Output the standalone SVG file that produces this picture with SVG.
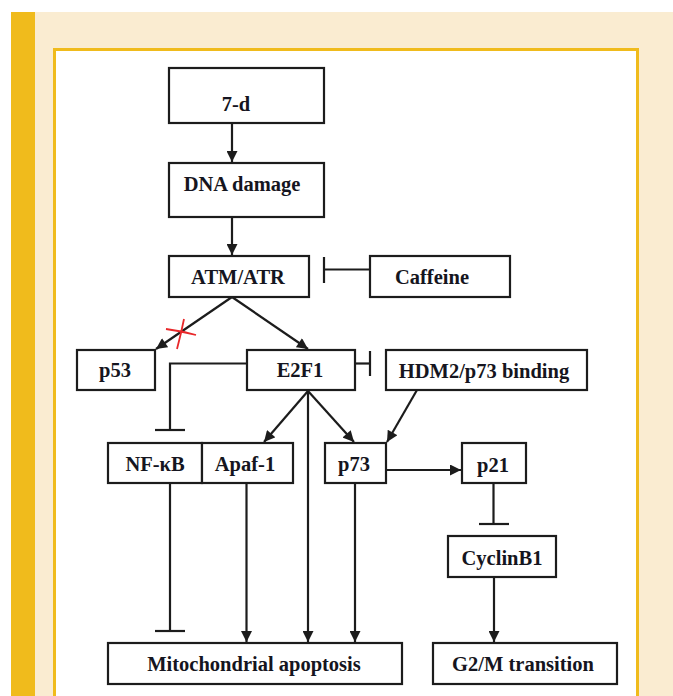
<svg xmlns="http://www.w3.org/2000/svg" width="673" height="696" viewBox="0 0 673 696">
<defs>
<style>
.box{fill:#fff;stroke:#1c1c1c;stroke-width:2.2}
.lbl{font-family:"Liberation Serif","Times New Roman",serif;font-weight:bold;font-size:20.5px;fill:#151520;text-anchor:middle}
.ln{stroke:#1c1c1c;stroke-width:2.2;fill:none}
.arr{stroke:#1c1c1c;stroke-width:2.2;fill:none;marker-end:url(#ah)}
</style>
<marker id="ah" viewBox="0 0 10 10" refX="10" refY="5" markerWidth="5.5" markerHeight="5" markerUnits="strokeWidth" orient="auto">
<path d="M0,0 L10,5 L0,10 z" fill="#1c1c1c"/>
</marker>
</defs>
<rect x="0" y="0" width="673" height="696" fill="#fff"/>
<rect x="11" y="12" width="662" height="684" fill="#FAECD1"/>
<rect x="11" y="12" width="24" height="684" fill="#F0BB1C"/>
<rect x="54.5" y="49.5" width="583" height="660" fill="#fff" stroke="#F0BB1C" stroke-width="3"/>

<g id="connectors">
<line class="arr" x1="232" y1="124" x2="232" y2="162"/>
<line class="arr" x1="232" y1="218" x2="232" y2="255"/>
<line class="ln" x1="370" y1="269.5" x2="324" y2="269.5"/>
<line class="ln" x1="324" y1="257" x2="324" y2="283"/>
<line class="arr" x1="232" y1="297" x2="156" y2="349"/>
<line class="arr" x1="232" y1="297" x2="308" y2="349"/>
<polyline class="ln" points="247,363.5 170,363.5 170,430"/>
<line class="ln" x1="155" y1="430" x2="185" y2="430"/>
<line class="ln" x1="355" y1="363.5" x2="370" y2="363.5"/>
<line class="ln" x1="370" y1="351" x2="370" y2="376"/>
<line class="arr" x1="308" y1="391" x2="264" y2="442"/>
<line class="arr" x1="308" y1="391" x2="354" y2="442"/>
<line class="arr" x1="308" y1="391" x2="308" y2="642"/>
<line class="arr" x1="417" y1="390" x2="387" y2="442"/>
<line class="arr" x1="386" y1="470" x2="461" y2="470"/>
<line class="ln" x1="493.5" y1="483" x2="493.5" y2="524"/>
<line class="ln" x1="479" y1="524" x2="509" y2="524"/>
<line class="arr" x1="494" y1="577" x2="494" y2="642"/>
<line class="ln" x1="170" y1="483" x2="170" y2="631"/>
<line class="ln" x1="155" y1="631" x2="185" y2="631"/>
<line class="arr" x1="246.5" y1="483" x2="246.5" y2="642"/>
<line class="arr" x1="355" y1="483" x2="355" y2="642"/>
<path d="M184,319 Q181,334 177,349 M166,329 Q181,331 196,335" stroke="#E8282A" stroke-width="1.8" fill="none"/>
</g>

<g id="n-7d"><rect class="box" x="169" y="68" width="155" height="55"/><text class="lbl" x="236" y="111">7-d</text></g>
<g id="n-dna"><rect class="box" x="169" y="163" width="155" height="54"/><text class="lbl" x="242" y="190.5">DNA damage</text></g>
<g id="n-atm"><rect class="box" x="169" y="256" width="140" height="41"/><text class="lbl" x="238" y="284">ATM/ATR</text></g>
<g id="n-caffeine"><rect class="box" x="370" y="256" width="140" height="41"/><text class="lbl" x="432" y="283.5">Caffeine</text></g>
<g id="n-p53"><rect class="box" x="77" y="350" width="78" height="40"/><text class="lbl" x="115" y="377">p53</text></g>
<g id="n-e2f1"><rect class="box" x="247" y="350" width="108" height="40"/><text class="lbl" x="300" y="377">E2F1</text></g>
<g id="n-hdm2"><rect class="box" x="386" y="350" width="201" height="40"/><text class="lbl" x="484" y="377.5">HDM2/p73 binding</text></g>
<g id="n-nfkb"><rect class="box" x="108" y="443" width="94" height="40"/><text class="lbl" x="155" y="471">NF-κB</text></g>
<g id="n-apaf1"><rect class="box" x="202" y="443" width="91" height="40"/><text class="lbl" x="245" y="471">Apaf-1</text></g>
<g id="n-p73"><rect class="box" x="325" y="443" width="61" height="40"/><text class="lbl" x="354" y="471">p73</text></g>
<g id="n-p21"><rect class="box" x="462" y="443" width="64" height="40"/><text class="lbl" x="493" y="471.5">p21</text></g>
<g id="n-cyclinb1"><rect class="box" x="448" y="536" width="108" height="41"/><text class="lbl" x="502" y="564.5">CyclinB1</text></g>
<g id="n-mito"><rect class="box" x="108" y="643" width="294" height="41"/><text class="lbl" x="254" y="671">Mitochondrial apoptosis</text></g>
<g id="n-g2m"><rect class="box" x="433" y="643" width="184" height="41"/><text class="lbl" x="523" y="671">G2/M transition</text></g>
</svg>
